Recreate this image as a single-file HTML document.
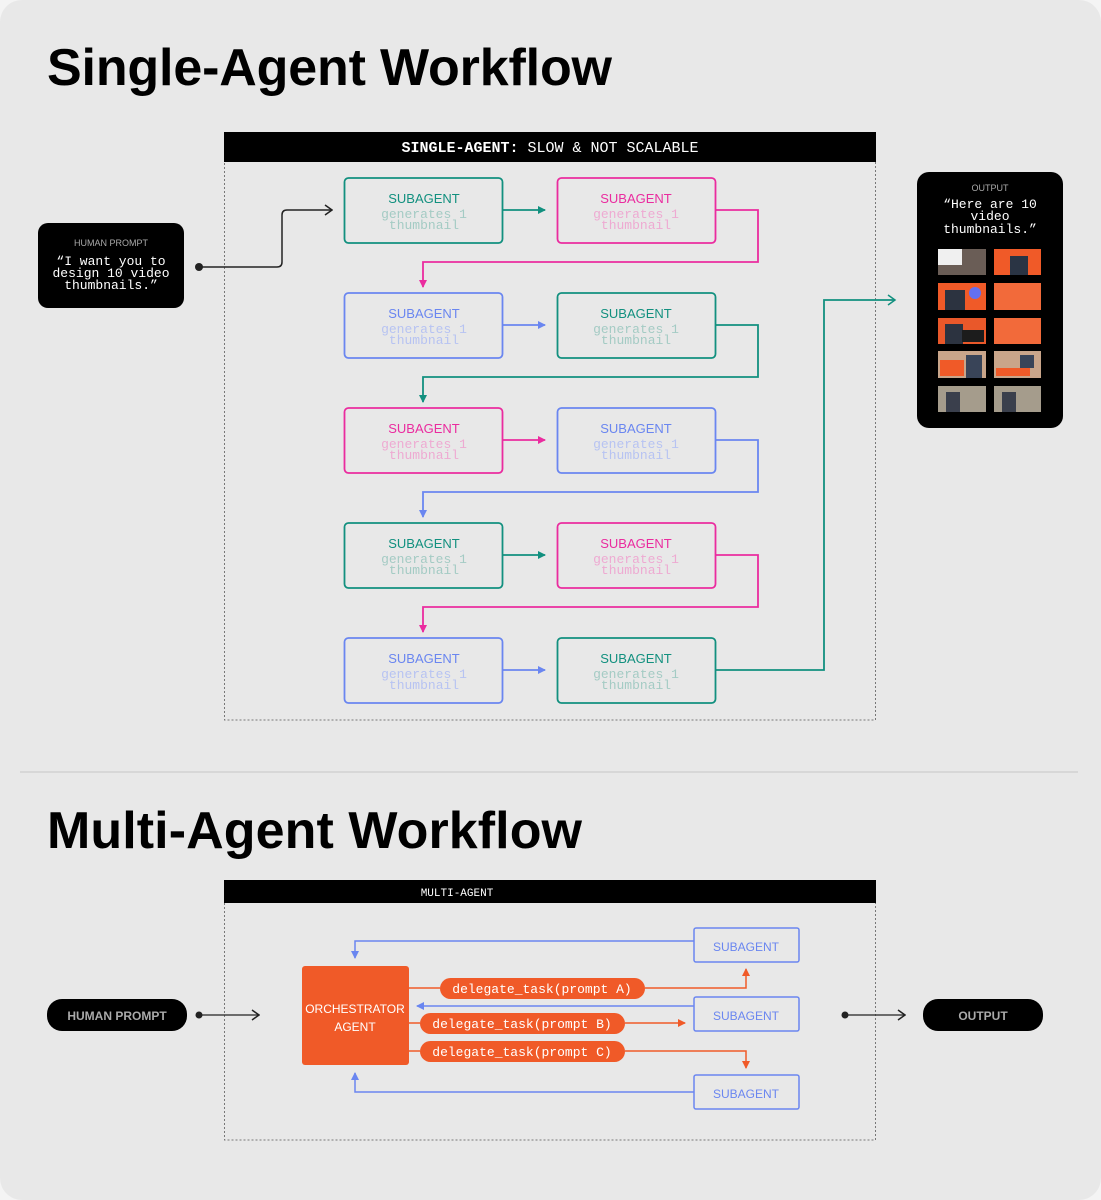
<!DOCTYPE html>
<html><head><meta charset="utf-8"><style>
html,body{margin:0;padding:0;background:#f4f4f4;}
svg{display:block}
.h{font-family:"Liberation Sans",sans-serif;font-weight:bold}
.m{font-family:"Liberation Mono",monospace}
.s{font-family:"Liberation Sans",sans-serif}
</style></head><body>
<svg width="1101" height="1200" viewBox="0 0 1101 1200" xmlns="http://www.w3.org/2000/svg">
<defs>
<marker id="aT" markerWidth="8" markerHeight="8" refX="7" refY="4" orient="auto" markerUnits="userSpaceOnUse"><path d="M0,0 L8,4 L0,8z" fill="#12907f"/></marker>
<marker id="aP" markerWidth="8" markerHeight="8" refX="7" refY="4" orient="auto" markerUnits="userSpaceOnUse"><path d="M0,0 L8,4 L0,8z" fill="#ea2c9f"/></marker>
<marker id="aB" markerWidth="8" markerHeight="8" refX="7" refY="4" orient="auto" markerUnits="userSpaceOnUse"><path d="M0,0 L8,4 L0,8z" fill="#6a86f0"/></marker>
<marker id="aO" markerWidth="8" markerHeight="8" refX="7" refY="4" orient="auto" markerUnits="userSpaceOnUse"><path d="M0,0 L8,4 L0,8z" fill="#f05a28"/></marker>
<marker id="aK" markerWidth="10" markerHeight="12" refX="9" refY="6" orient="auto" markerUnits="userSpaceOnUse"><path d="M2,1 L9,6 L2,11" fill="none" stroke="#222" stroke-width="1.5"/></marker>
</defs>
<rect x="0" y="0" width="1101" height="1200" rx="22" fill="#e8e8e8"/>
<text x="47" y="85" class="h" font-size="52" fill="#000" textLength="565">Single-Agent Workflow</text>
<text x="47" y="848" class="h" font-size="52" fill="#000" textLength="535">Multi-Agent Workflow</text>
<line x1="20" y1="772" x2="1078" y2="772" stroke="#c6c6c6" stroke-width="1"/>

<rect x="224.5" y="133" width="651" height="587" fill="none" stroke="#777" stroke-dasharray="2,2"/>
<rect x="224" y="132" width="652" height="30" fill="#000"/>
<text x="550" y="152" text-anchor="middle" class="m" font-size="15" fill="#fff"><tspan font-weight="bold">SINGLE-AGENT:</tspan> SLOW &amp; NOT SCALABLE</text>

<rect x="38" y="223" width="146" height="85" rx="10" fill="#000"/>
<text x="111" y="246" text-anchor="middle" class="s" font-size="9" fill="#aaa">HUMAN PROMPT</text>
<text x="111" y="265" text-anchor="middle" class="m" font-size="13" fill="#fff">“I want you to</text>
<text x="111" y="277" text-anchor="middle" class="m" font-size="13" fill="#fff">design 10 video</text>
<text x="111" y="289" text-anchor="middle" class="m" font-size="13" fill="#fff">thumbnails.”</text>
<circle cx="199" cy="267" r="4" fill="#222"/>
<path d="M199,267 H277 Q282,267 282,262 V215 Q282,210 287,210 H332" fill="none" stroke="#222" stroke-width="1.5" marker-end="url(#aK)"/>

<rect x="917" y="172" width="146" height="256" rx="12" fill="#000"/>
<text x="990" y="191" text-anchor="middle" class="s" font-size="9" fill="#aaa">OUTPUT</text>
<text x="990" y="208" text-anchor="middle" class="m" font-size="13" fill="#fff">“Here are 10</text>
<text x="990" y="220" text-anchor="middle" class="m" font-size="13" fill="#fff">video</text>
<text x="990" y="233" text-anchor="middle" class="m" font-size="13" fill="#fff">thumbnails.”</text>
<g>
<rect x="938" y="249" width="48" height="26" fill="#6a5d56"/><rect x="938" y="249" width="24" height="16" fill="#f0f0f0"/>
<rect x="994" y="249" width="47" height="26" fill="#f05a28"/><rect x="1010" y="256" width="18" height="19" fill="#2a3444"/>
<rect x="938" y="283" width="48" height="27" fill="#f05a28"/><rect x="945" y="290" width="20" height="20" fill="#2c3340"/><circle cx="975" cy="293" r="6" fill="#6470f0"/>
<rect x="994" y="283" width="47" height="27" fill="#f26a3a"/>
<rect x="938" y="318" width="48" height="26" fill="#e9582a"/><rect x="945" y="324" width="18" height="20" fill="#2c3340"/><rect x="962" y="330" width="22" height="12" fill="#1c1c1c"/>
<rect x="994" y="318" width="47" height="26" fill="#f26a3a"/>
<rect x="938" y="351" width="48" height="27" fill="#c9a58a"/><rect x="940" y="360" width="24" height="16" fill="#f05a28"/><rect x="966" y="355" width="16" height="23" fill="#394458"/>
<rect x="994" y="351" width="47" height="27" fill="#c9a58a"/><rect x="996" y="368" width="34" height="8" fill="#f05a28"/><rect x="1020" y="355" width="14" height="13" fill="#394458"/>
<rect x="938" y="386" width="48" height="26" fill="#a59c8c"/><rect x="946" y="392" width="14" height="20" fill="#3a3f4c"/>
<rect x="994" y="386" width="47" height="26" fill="#a59c8c"/><rect x="1002" y="392" width="14" height="20" fill="#3a3f4c"/>
</g>

<g fill="none" stroke-width="1.8">
<path d="M503,210 H545" stroke="#12907f" marker-end="url(#aT)"/>
<path d="M716,210 H758 V262 H423 V287" stroke="#ea2c9f" marker-end="url(#aP)"/>
<path d="M503,325 H545" stroke="#6a86f0" marker-end="url(#aB)"/>
<path d="M716,325 H758 V377 H423 V402" stroke="#12907f" marker-end="url(#aT)"/>
<path d="M503,440 H545" stroke="#ea2c9f" marker-end="url(#aP)"/>
<path d="M716,440 H758 V492 H423 V517" stroke="#6a86f0" marker-end="url(#aB)"/>
<path d="M503,555 H545" stroke="#12907f" marker-end="url(#aT)"/>
<path d="M716,555 H758 V607 H423 V632" stroke="#ea2c9f" marker-end="url(#aP)"/>
<path d="M503,670 H545" stroke="#6a86f0" marker-end="url(#aB)"/>
<path d="M716,670 H824 V300 H895" stroke="#12907f" fill="none"/>
</g>
<path d="M888,295 L895,300 L888,305" fill="none" stroke="#12907f" stroke-width="1.5"/>

<g stroke-width="1.8" fill="none">
<rect x="344.5" y="178" width="158" height="65" rx="4" stroke="#12907f"/>
<rect x="557.5" y="178" width="158" height="65" rx="4" stroke="#ea2c9f"/>
<rect x="344.5" y="293" width="158" height="65" rx="4" stroke="#6a86f0"/>
<rect x="557.5" y="293" width="158" height="65" rx="4" stroke="#12907f"/>
<rect x="344.5" y="408" width="158" height="65" rx="4" stroke="#ea2c9f"/>
<rect x="557.5" y="408" width="158" height="65" rx="4" stroke="#6a86f0"/>
<rect x="344.5" y="523" width="158" height="65" rx="4" stroke="#12907f"/>
<rect x="557.5" y="523" width="158" height="65" rx="4" stroke="#ea2c9f"/>
<rect x="344.5" y="638" width="158" height="65" rx="4" stroke="#6a86f0"/>
<rect x="557.5" y="638" width="158" height="65" rx="4" stroke="#12907f"/>
</g>
<g text-anchor="middle">
<g class="s" font-size="13">
<text x="424" y="203" fill="#12907f">SUBAGENT</text><text x="636" y="203" fill="#ea2c9f">SUBAGENT</text>
<text x="424" y="318" fill="#6a86f0">SUBAGENT</text><text x="636" y="318" fill="#12907f">SUBAGENT</text>
<text x="424" y="433" fill="#ea2c9f">SUBAGENT</text><text x="636" y="433" fill="#6a86f0">SUBAGENT</text>
<text x="424" y="548" fill="#12907f">SUBAGENT</text><text x="636" y="548" fill="#ea2c9f">SUBAGENT</text>
<text x="424" y="663" fill="#6a86f0">SUBAGENT</text><text x="636" y="663" fill="#12907f">SUBAGENT</text>
</g>
<g class="m" font-size="13">
<text x="424" y="218" fill="#a4cbc4">generates 1</text><text x="424" y="229" fill="#a4cbc4">thumbnail</text>
<text x="636" y="218" fill="#eeaad2">generates 1</text><text x="636" y="229" fill="#eeaad2">thumbnail</text>
<text x="424" y="333" fill="#b7c3f2">generates 1</text><text x="424" y="344" fill="#b7c3f2">thumbnail</text>
<text x="636" y="333" fill="#a4cbc4">generates 1</text><text x="636" y="344" fill="#a4cbc4">thumbnail</text>
<text x="424" y="448" fill="#eeaad2">generates 1</text><text x="424" y="459" fill="#eeaad2">thumbnail</text>
<text x="636" y="448" fill="#b7c3f2">generates 1</text><text x="636" y="459" fill="#b7c3f2">thumbnail</text>
<text x="424" y="563" fill="#a4cbc4">generates 1</text><text x="424" y="574" fill="#a4cbc4">thumbnail</text>
<text x="636" y="563" fill="#eeaad2">generates 1</text><text x="636" y="574" fill="#eeaad2">thumbnail</text>
<text x="424" y="678" fill="#b7c3f2">generates 1</text><text x="424" y="689" fill="#b7c3f2">thumbnail</text>
<text x="636" y="678" fill="#a4cbc4">generates 1</text><text x="636" y="689" fill="#a4cbc4">thumbnail</text>
</g>
</g>

<rect x="224.5" y="881" width="651" height="259" fill="none" stroke="#777" stroke-dasharray="2,2"/>
<rect x="224" y="880" width="652" height="23" fill="#000"/>
<text x="457" y="896" text-anchor="middle" class="m" font-size="11" fill="#fff">MULTI-AGENT</text>

<rect x="47" y="999" width="140" height="32" rx="15" fill="#000"/>
<text x="117" y="1020" text-anchor="middle" class="s" font-size="12" font-weight="bold" fill="#aaa">HUMAN PROMPT</text>
<circle cx="199" cy="1015" r="3.5" fill="#222"/>
<path d="M199,1015 H259" stroke="#222" stroke-width="1.2" marker-end="url(#aK)"/>

<rect x="923" y="999" width="120" height="32" rx="15" fill="#000"/>
<text x="983" y="1020" text-anchor="middle" class="s" font-size="12" font-weight="bold" fill="#aaa">OUTPUT</text>
<circle cx="845" cy="1015" r="3.5" fill="#222"/>
<path d="M845,1015 H905" stroke="#222" stroke-width="1.2" marker-end="url(#aK)"/>

<rect x="302" y="966" width="107" height="99" rx="3" fill="#f05a28"/>
<text x="355" y="1013" text-anchor="middle" class="s" font-size="12" fill="#fff">ORCHESTRATOR</text>
<text x="355" y="1031" text-anchor="middle" class="s" font-size="12" fill="#fff">AGENT</text>

<g fill="none" stroke-width="1.5">
<path d="M694,941 H355 V958" stroke="#6a86f0" marker-end="url(#aB)"/>
<path d="M694,1006 H417" stroke="#6a86f0" marker-end="url(#aB)"/>
<path d="M694,1092 H355 V1073" stroke="#6a86f0" marker-end="url(#aB)"/>
<path d="M409,988 H440 M645,988 H746 V970" stroke="#f05a28"/>
<path d="M746,972 V969" stroke="#f05a28" marker-end="url(#aO)"/>
<path d="M409,1023 H420 M625,1023 H684" stroke="#f05a28"/>
<path d="M680,1023 H685" stroke="#f05a28" marker-end="url(#aO)"/>
<path d="M625,1051 H746 V1068" stroke="#f05a28" marker-end="url(#aO)"/>
<path d="M409,1051 H420" stroke="#f05a28"/>
</g>
<rect x="440" y="978" width="205" height="21" rx="10.5" fill="#f05a28"/>
<text x="542" y="993" text-anchor="middle" class="m" font-size="13" fill="#fff">delegate_task(prompt A)</text>
<rect x="420" y="1013" width="205" height="21" rx="10.5" fill="#f05a28"/>
<text x="522" y="1028" text-anchor="middle" class="m" font-size="13" fill="#fff">delegate_task(prompt B)</text>
<rect x="420" y="1041" width="205" height="21" rx="10.5" fill="#f05a28"/>
<text x="522" y="1056" text-anchor="middle" class="m" font-size="13" fill="#fff">delegate_task(prompt C)</text>

<g fill="none" stroke="#6a86f0" stroke-width="1.5">
<rect x="694" y="928" width="105" height="34" rx="2"/>
<rect x="694" y="997" width="105" height="34" rx="2"/>
<rect x="694" y="1075" width="105" height="34" rx="2"/>
</g>
<g text-anchor="middle" class="s" font-size="12" fill="#6a86f0">
<text x="746" y="951">SUBAGENT</text>
<text x="746" y="1020">SUBAGENT</text>
<text x="746" y="1098">SUBAGENT</text>
</g>
</svg>
</body></html>
